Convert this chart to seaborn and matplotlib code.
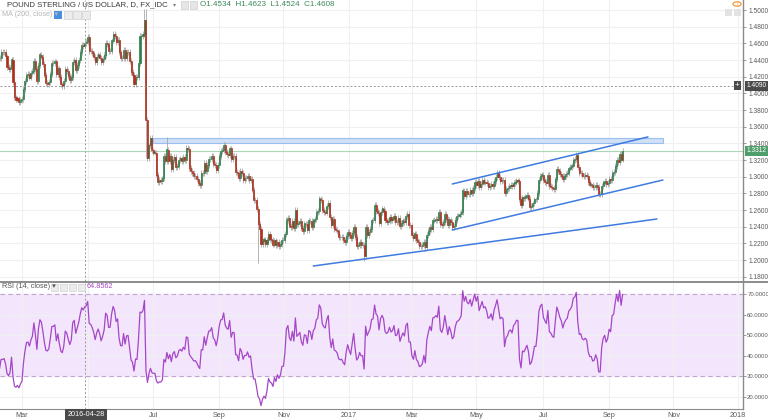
import numpy as np
import pandas as pd
import matplotlib
matplotlib.use("Agg")
import matplotlib.pyplot as plt
import seaborn as sns
from matplotlib.transforms import Bbox, TransformedBbox, IdentityTransform, blended_transform_factory
from matplotlib.patches import Rectangle, Circle

# ---------------- data ----------------
DATA_START = "2016-01-18"      # first daily bar (warm-up for RSI)
VIEW_START = "2016-02-09"      # first bar at left edge of view

closes = [
    1.4256, 1.4158, 1.4181, 1.4222, 1.4263,
    1.4261, 1.4339, 1.4262, 1.4318, 1.4249,
    1.4418, 1.4422, 1.4573, 1.4593, 1.4498,
    1.4425, 1.4425, 1.4495, 1.4494, 1.4501,
    1.4443, 1.4318, 1.4288, 1.4305, 1.4406,
    1.4140, 1.3951, 1.3926, 1.3939, 1.3891,
    1.3917, 1.3933, 1.4057, 1.4150, 1.4224,
    1.4230, 1.4190, 1.4240, 1.4271, 1.4391,
    1.4292, 1.4143, 1.4345, 1.4466, 1.4442,
    1.4351, 1.4226, 1.4125, 1.4117, 1.4137,
    1.4237, 1.4365, 1.4366, 1.4383, 1.4230,
    1.4299, 1.4197, 1.4107, 1.4087, 1.4145,
    1.4292, 1.4270, 1.4209, 1.4156, 1.4196,
    1.4375, 1.4400, 1.4280, 1.4340, 1.4401,
    1.4498, 1.4584, 1.4566, 1.4608, 1.4620,
    1.4677, 1.4510, 1.4504, 1.4479, 1.4440,
    1.4378, 1.4433, 1.4466, 1.4430, 1.4374,
    1.4408, 1.4456, 1.4609, 1.4595, 1.4510,
    1.4512, 1.4634, 1.4716, 1.4690, 1.4615,
    1.4640, 1.4491, 1.4423, 1.4420, 1.4518,
    1.4425, 1.4493, 1.4497, 1.4393, 1.4256,
    1.4226, 1.4113, 1.4200, 1.4194, 1.4362,
    1.4690, 1.4684, 1.4715, 1.4877, 1.3679,
    1.3222, 1.3375, 1.3469, 1.3315, 1.3290,
    1.3290, 1.3026, 1.2941, 1.2958, 1.2951,
    1.2979, 1.3247, 1.3187, 1.3326, 1.3188,
    1.3247, 1.3093, 1.3205, 1.3235, 1.3111,
    1.3132, 1.3202, 1.3219, 1.3190, 1.3234,
    1.3204, 1.3346, 1.3336, 1.3108, 1.3069,
    1.3041, 1.3004, 1.3008, 1.2977, 1.2929,
    1.2897, 1.3047, 1.3045, 1.3163, 1.3073,
    1.3144, 1.3211, 1.3212, 1.3244, 1.3155,
    1.3138, 1.3083, 1.3140, 1.3247, 1.3312,
    1.3316, 1.3383, 1.3297, 1.3272, 1.3264,
    1.3339, 1.3211, 1.3252, 1.3251, 1.3052,
    1.3047, 1.2986, 1.3073, 1.3043, 1.2963,
    1.2989, 1.2988, 1.3011, 1.2964, 1.2972,
    1.2846, 1.2725, 1.2725, 1.2611, 1.2430,
    1.2371, 1.2190, 1.2228, 1.2246, 1.2194,
    1.2238, 1.2310, 1.2256, 1.2238, 1.2186,
    1.2235, 1.2181, 1.2218, 1.2172, 1.2190,
    1.2236, 1.2237, 1.2311, 1.2479, 1.2508,
    1.2414, 1.2392, 1.2464, 1.2387, 1.2600,
    1.2432, 1.2449, 1.2471, 1.2382, 1.2347,
    1.2438, 1.2434, 1.2361, 1.2474, 1.2465,
    1.2398, 1.2474, 1.2496, 1.2576, 1.2592,
    1.2738, 1.2717, 1.2604, 1.2580, 1.2570,
    1.2645, 1.2686, 1.2519, 1.2417, 1.2491,
    1.2375, 1.2366, 1.2343, 1.2281, 1.2271,
    1.2275, 1.2240, 1.2220, 1.2292, 1.2340,
    1.2296, 1.2260, 1.2323, 1.2397, 1.2276,
    1.2164, 1.2177, 1.2213, 1.2182, 1.2183,
    1.2052, 1.2395, 1.2302, 1.2339, 1.2373,
    1.2475, 1.2481, 1.2657, 1.2585, 1.2567,
    1.2446, 1.2575, 1.2618, 1.2589, 1.2475,
    1.2454, 1.2469, 1.2514, 1.2475, 1.2487,
    1.2530, 1.2454, 1.2459, 1.2507, 1.2411,
    1.2446, 1.2474, 1.2452, 1.2531, 1.2549,
    1.2417, 1.2415, 1.2297, 1.2264, 1.2318,
    1.2235, 1.2214, 1.2163, 1.2167, 1.2178,
    1.2221, 1.2159, 1.2299, 1.2352, 1.2399,
    1.2370, 1.2474, 1.2477, 1.2493, 1.2484,
    1.2577, 1.2434, 1.2415, 1.2456, 1.2552,
    1.2494, 1.2421, 1.2486, 1.2454, 1.2397,
    1.2411, 1.2485, 1.2526, 1.2534, 1.2548,
    1.2574, 1.2834, 1.2772, 1.2832, 1.2796,
    1.2789, 1.2837, 1.2800, 1.2865, 1.2934,
    1.2896, 1.2951, 1.2871, 1.2916, 1.2965,
    1.2930, 1.2941, 1.2920, 1.2880, 1.2887,
    1.2913, 1.2883, 1.2953, 1.2993, 1.3041,
    1.3001, 1.2952, 1.2962, 1.2956, 1.2799,
    1.2852, 1.2864, 1.2893, 1.2899, 1.2883,
    1.2924, 1.2935, 1.2955, 1.2953, 1.2737,
    1.2659, 1.2751, 1.2744, 1.2762, 1.2780,
    1.2738, 1.2636, 1.2647, 1.2679, 1.2727,
    1.2727, 1.2804, 1.2958, 1.3010, 1.3026,
    1.2955, 1.2936, 1.2921, 1.3023, 1.2892,
    1.2882, 1.2860, 1.2853, 1.2967, 1.3097,
    1.3069, 1.3035, 1.3014, 1.2970, 1.3009,
    1.3030, 1.3044, 1.3098, 1.3112, 1.3134,
    1.3204, 1.3215, 1.3257, 1.3119, 1.3041,
    1.3045, 1.3014, 1.3007, 1.3016, 1.3006,
    1.2937, 1.2906, 1.2906, 1.2877, 1.2880,
    1.2900, 1.2879, 1.2794, 1.2794, 1.2886,
    1.2930, 1.2945, 1.2911, 1.2926, 1.2971,
    1.2960, 1.3047, 1.3053, 1.3125, 1.3199,
    1.3171, 1.3270, 1.3206, 1.3312,
]
high_overrides = {"2016-06-23": 1.5018, "2016-06-24": 1.5018, "2016-07-14": 1.3480}
low_overrides = {"2016-06-24": 1.3229, "2016-10-07": 1.1960,
                 "2017-01-16": 1.1986, "2017-03-14": 1.2109}

tick_months = ["2016-03-01", "2016-05-01", "2016-07-01", "2016-09-01", "2016-11-01",
               "2017-01-01", "2017-03-01", "2017-05-01", "2017-07-01", "2017-09-01",
               "2017-11-01", "2018-01-01"]
tick_labels = ["Mar", "", "Jul", "Sep", "Nov", "2017", "Mar", "May", "Jul", "Sep", "Nov", "2018"]
price_ticks = [1.18, 1.20, 1.22, 1.24, 1.26, 1.28, 1.30, 1.32, 1.34, 1.36,
               1.38, 1.40, 1.42, 1.44, 1.46, 1.48, 1.50]
rsi_ticks = [20, 30, 40, 50, 60, 70]

trend_start_dates = ["2016-11-29", "2017-04-07", "2017-04-07"]
trend_start_prices = [1.1928, 1.2912, 1.2360]
trend_end_dates = ["2017-10-17", "2017-10-09", "2017-10-23"]
trend_end_prices = [1.2492, 1.3477, 1.2960]

zone_dates = ["2016-07-01", "2017-10-23"]
zone_prices = [1.3405, 1.3465]
last_price = 1.3312
cross_date = "2016-04-28"
cross_price = 1.4090
title_text = "POUND STERLING / US DOLLAR, D, FX_IDC"
ohlc_text = "O1.4534  H1.4623  L1.4524  C1.4608"
rsi_label_value = "64.8562"

# ---------------- derived ----------------
W, H = 768, 420
all_days = pd.bdate_range(DATA_START, "2018-03-30")
pos0 = all_days.get_loc(pd.Timestamp(VIEW_START))


def pos(d):
    return all_days.searchsorted(pd.Timestamp(d)) - pos0


n = len(closes)
dates = all_days[:n]
x = np.arange(n) - pos0
c = np.array(closes)
o = np.r_[c[0], c[:-1]]
wick = 0.0035
hi = np.maximum(o, c) + wick
lo = np.minimum(o, c) - wick
for d, v in high_overrides.items():
    hi[dates.get_loc(pd.Timestamp(d))] = v
for d, v in low_overrides.items():
    lo[dates.get_loc(pd.Timestamp(d))] = v

s = pd.Series(c)
delta = s.diff()
gain = delta.clip(lower=0).ewm(alpha=1 / 14, adjust=False).mean()
loss = (-delta.clip(upper=0)).ewm(alpha=1 / 14, adjust=False).mean()
rsi = 100 - 100 / (1 + gain / loss)
df_rsi = pd.DataFrame({"x": x[1:], "rsi": rsi.values[1:]})

# ---------------- figure ----------------
sns.set_style("white")
plt.rcParams["font.family"] = ["Liberation Sans", "DejaVu Sans"]
fig = plt.figure(figsize=(W / 100, H / 100), dpi=100)


def fx(px):
    return px / W


def fy(py):
    return 1 - py / H


ax = fig.add_axes([0, fy(281), fx(743), 281 / H])
ax2 = fig.add_axes([0, fy(409), fx(743), (409 - 283) / H])

xl = (0.3, 497.6)
for a in (ax, ax2):
    a.set_xlim(*xl)
    for sp in ("top", "left", "bottom"):
        a.spines[sp].set_visible(False)
    a.spines["right"].set_color("#8a8a8a")
    a.spines["right"].set_linewidth(1.0)
    a.yaxis.tick_right()
    a.tick_params(axis="y", length=2.5, width=0.6, color="#8a8a8a", labelsize=4.8,
                  labelcolor="#5a5a5a", pad=1.2)
    a.set_xticks([pos(d) for d in tick_months])
    a.grid(True, color="#f0f0f0", lw=0.8)
    a.set_axisbelow(True)
    a.set_facecolor("white")

ax.set_ylim(1.1748, 1.512)
ax.set_yticks(price_ticks)
ax.set_yticklabels([f"{v:.4f}" for v in price_ticks])
ax.tick_params(axis="x", length=0, labelbottom=False)

ax2.set_ylim(14.1, 75.6)
ax2.set_yticks(rsi_ticks)
ax2.set_yticklabels([f"{v:.4f}" for v in rsi_ticks])
ax2.tick_params(axis="y", labelsize=4.3, pad=1.0, length=2)
ax2.set_xticklabels(tick_labels)
ax2.tick_params(axis="x", length=1.5, color="#8a8a8a", labelsize=5.2, labelcolor="#5a5a5a", pad=0.6)
ax2.spines["bottom"].set_visible(True)
ax2.spines["bottom"].set_color("#8a8a8a")
clip = TransformedBbox(Bbox.from_extents(0, 0, 746, H), IdentityTransform())
for lab in ax2.get_xticklabels():
    lab.set_clip_on(True)
    lab.set_clip_box(clip)

# zone + current price line
ax.add_patch(Rectangle((pos(zone_dates[0]), zone_prices[0]),
                       pos(zone_dates[1]) - pos(zone_dates[0]), zone_prices[1] - zone_prices[0],
                       facecolor="#cfe0f7", edgecolor="#9dbff0", lw=0.8, zorder=1))
ax.axhline(last_price, color="#a9d8b8", lw=0.8, zorder=1)

# candles
up = c >= o
ax.vlines(x, lo, hi, color="#a8a8a8", lw=0.6, zorder=2)
bw = 0.7
ax.bar(x[up], (c - o)[up] + 1e-9, bottom=o[up], width=bw, color="#2f7d4b",
       edgecolor="#2f7d4b", lw=0.5, zorder=3)
ax.bar(x[~up], (c - o)[~up], bottom=o[~up], width=bw, color="#ae2f1c",
       edgecolor="#ae2f1c", lw=0.5, zorder=3)

# trend lines
for sd, sp_, ed, ep in zip(trend_start_dates, trend_start_prices, trend_end_dates, trend_end_prices):
    ax.plot([pos(sd), pos(ed)], [sp_, ep], color="#3f7be0", lw=1.1, zorder=4,
            solid_capstyle="round")

# crosshair
cx = pos(cross_date)
for a in (ax, ax2):
    a.axvline(cx, color="#9a9a9a", lw=0.7, ls=(0, (2, 2)), zorder=5)
ax.axhline(cross_price, xmax=1, color="#9a9a9a", lw=0.7, ls=(0, (2, 2)), zorder=5)

# RSI
ax2.axhspan(30, 70, color="#f3e6fc", zorder=0)
for lvl in (30, 70):
    ax2.axhline(lvl, color="#c2a3d2", lw=0.8, ls=(0, (4, 3)), zorder=1)
sns.lineplot(data=df_rsi, x="x", y="rsi", ax=ax2, color="#a546c8", lw=0.9, zorder=3)
ax2.set_xlabel("")
ax2.set_ylabel("")
ax.set_xlabel("")
ax.set_ylabel("")

# price labels on right axis
bt = blended_transform_factory(ax.transAxes, ax.transData)
ax.text(1.005, last_price, f"{last_price:.4f}", transform=bt, fontsize=4.8, color="white",
        va="center", ha="left", clip_on=False,
        bbox=dict(boxstyle="square,pad=0.25", fc="#4f9e6c", ec="none"), zorder=10)
ax.text(1.005, cross_price, f"{cross_price:.4f}", transform=bt, fontsize=4.8, color="white",
        va="center", ha="left", clip_on=False,
        bbox=dict(boxstyle="square,pad=0.25", fc="#4a4a4a", ec="none"), zorder=10)
ax.text(0.9925, cross_price, "+", transform=bt, fontsize=6, color="white",
        va="center", ha="center", clip_on=False,
        bbox=dict(boxstyle="square,pad=0.12", fc="#4a4a4a", ec="none"), zorder=10)

# crosshair date label
fig.text(fx(86), fy(414.5), "2016-04-28", fontsize=5.2, color="white", ha="center", va="center",
         bbox=dict(boxstyle="square,pad=0.3", fc="#4a4a4a", ec="none"))

# separator between panes
fig.add_artist(plt.Line2D([0, 1], [fy(281.5), fy(281.5)], color="#8c8c8c", lw=1.4))

# legends
fig.text(fx(7), fy(5), title_text, fontsize=5.6, color="#3a3a3a", va="center", ha="left")
fig.text(fx(173), fy(5), "\u25be", fontsize=4.5, color="#888", va="center", ha="left")
for px_ in (181, 190):
    fig.add_artist(Rectangle((fx(px_), fy(8.5)), fx(7), 7 / H, transform=fig.transFigure,
                             fc="#e6e6e6", ec="#cfcfcf", lw=0.5))
fig.text(fx(200), fy(5), ohlc_text, fontsize=5.8, color="#3b8a5c", va="center", ha="left")

fig.text(fx(2), fy(15), "MA (200, close) \u25be", fontsize=5.2, color="#b5b5b5", va="center", ha="left")
fig.add_artist(Rectangle((fx(54), fy(19)), fx(8), 8 / H, transform=fig.transFigure,
                         fc="#4a90e2", ec="none"))
for px_ in (64, 73, 82):
    fig.add_artist(Rectangle((fx(px_), fy(19)), fx(8), 8 / H, transform=fig.transFigure,
                             fc="#ececec", ec="#d0d0d0", lw=0.5))

fig.text(fx(2), fy(287), "RSI (14, close) \u25be", fontsize=5.2, color="#555555", va="center", ha="left")
for px_ in (51, 60, 69, 78):
    fig.add_artist(Rectangle((fx(px_), fy(291)), fx(7), 7 / H, transform=fig.transFigure,
                             fc="#ececec", ec="#d0d0d0", lw=0.5))
fig.text(fx(87), fy(287), rsi_label_value, fontsize=5.2, color="#a546c8", va="center", ha="left")

# top-right icons
fig.add_artist(Circle((fx(737), fy(4)), 4 / W, transform=fig.transFigure, fc="white",
                      ec="#f39c3d", lw=0.9))
fig.text(fx(737), fy(4), "!", fontsize=4.5, color="#f39c3d", ha="center", va="center")
for px_ in (725, 734):
    fig.add_artist(Rectangle((fx(px_), fy(16)), fx(7), 7 / H, transform=fig.transFigure,
                             fc="#e3e3e3", ec="none"))

fig.savefig("out.png", dpi=100)
